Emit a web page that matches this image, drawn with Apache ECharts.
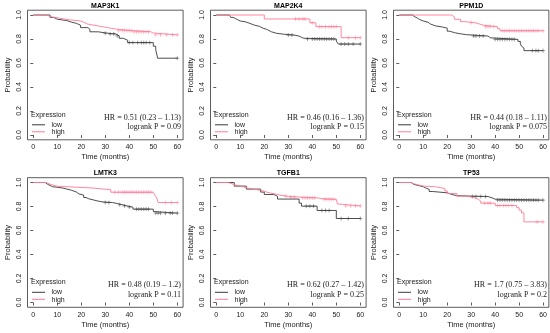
<!DOCTYPE html>
<html>
<head>
<meta charset="utf-8">
<script src="https://cdn.jsdelivr.net/npm/echarts@6/dist/echarts.min.js"></script>
<style>html,body{margin:0;padding:0;background:#fff;}#c{width:550px;height:333px;}</style>
</head>
<body>
<div id="c"></div>
<script>
// ---------- data ----------
const titles = ['MAP3K1', 'MAP2K4', 'PPM1D', 'LMTK3', 'TGFB1', 'TP53'];
const hrTexts = ['HR = 0.51 (0.23 – 1.13)', 'HR = 0.46 (0.16 – 1.36)', 'HR = 0.44 (0.18 – 1.11)',
                 'HR = 0.48 (0.19 – 1.2)', 'HR = 0.62 (0.27 – 1.42)', 'HR = 1.7 (0.75 – 3.83)'];
const pTexts = ['logrank P = 0.09', 'logrank P = 0.15', 'logrank P = 0.075',
                'logrank P = 0.11', 'logrank P = 0.25', 'logrank P = 0.2'];
const xTicks = [0, 10, 20, 30, 40, 50, 60];
const yTicks = [0, 0.2, 0.4, 0.6, 0.8, 1.0];
const groupNames = ['low', 'high'];

// MAP3K1
const map3k1LowT = [0, 7, 8.5, 10, 14, 16, 18, 19.7, 22.7, 23.6, 27, 31, 34.4, 35.8, 37.5, 39.3, 50, 51, 51.8, 60];
const map3k1LowS = [1, 0.98, 0.965, 0.953, 0.94, 0.93, 0.915, 0.895, 0.88, 0.86, 0.848, 0.842, 0.826, 0.806, 0.79, 0.77, 0.74, 0.71, 0.64, 0.64];
const map3k1LowC = [30, 32, 33.5, 35, 40, 41.5, 43.5, 45, 46, 47, 48.5, 60];
const map3k1HighT = [0, 5.5, 7.5, 10.5, 15, 19.7, 21, 22.5, 26.7, 29.5, 32.3, 33.7, 35.5, 41.4, 49, 49.9, 50.5, 60];
const map3k1HighS = [1, 0.985, 0.975, 0.96, 0.95, 0.94, 0.925, 0.91, 0.90, 0.89, 0.885, 0.88, 0.87, 0.86, 0.85, 0.84, 0.835, 0.835];
const map3k1HighC = [35.5, 37, 38, 39, 40, 41, 42, 43, 44, 45, 46, 47, 48, 51, 53, 55.5, 58, 60];

// MAP2K4
const map2k4LowT = [0, 5.5, 6, 7, 8, 9, 10, 12, 14, 16, 18, 19.5, 21, 22, 23, 25, 28, 32.3, 34.4, 35.5, 36.5, 50, 50.8, 60];
const map2k4LowS = [1, 0.99, 0.98, 0.97, 0.96, 0.95, 0.944, 0.93, 0.915, 0.905, 0.89, 0.88, 0.87, 0.86, 0.848, 0.84, 0.833, 0.825, 0.814, 0.806, 0.8, 0.783, 0.758, 0.758];
const map2k4LowC = [30, 31.5, 38, 40, 41, 42, 43, 44, 45, 46, 47, 48, 49, 52, 53.5, 55, 57, 60];
const map2k4HighT = [0, 20, 39, 41.5, 52, 60];
const map2k4HighS = [1, 0.967, 0.935, 0.903, 0.811, 0.811];
const map2k4HighC = [33, 34.5, 36, 37, 40, 43, 44, 45.5, 47, 48, 49, 50, 55, 58, 60];

// PPM1D
const ppm1dLowT = [0, 5.5, 6.5, 7.5, 8.5, 10, 12, 13, 15, 18, 20, 21, 23, 25, 28, 37, 38, 49.5, 50.5, 51, 51.5, 52, 60];
const ppm1dLowS = [1, 0.985, 0.975, 0.962, 0.95, 0.94, 0.925, 0.91, 0.9, 0.89, 0.865, 0.853, 0.845, 0.836, 0.825, 0.81, 0.797, 0.78, 0.76, 0.74, 0.725, 0.703, 0.703];
const ppm1dLowC = [31, 32, 33.5, 35, 40, 41, 42, 43, 44, 45, 46, 47, 48, 55.5, 57, 58, 60];
const ppm1dHighT = [0, 21.8, 23, 25.5, 27, 31.5, 33.5, 35, 41, 42, 60];
const ppm1dHighS = [1, 0.985, 0.964, 0.945, 0.936, 0.925, 0.915, 0.903, 0.886, 0.869, 0.869];
const ppm1dHighC = [30, 36, 37, 38, 39.5, 43, 44, 45, 46, 47, 48, 49, 50, 51, 52, 53, 54, 55, 56, 57, 58, 60];

// LMTK3
const lmtk3LowT = [0, 5, 6, 7, 8, 10, 12, 14, 16, 18, 19, 21, 22, 23, 25, 27, 29, 33, 35, 37, 39, 41.5, 50, 50.8, 60];
const lmtk3LowS = [1, 0.985, 0.975, 0.965, 0.96, 0.955, 0.945, 0.935, 0.92, 0.905, 0.895, 0.875, 0.865, 0.855, 0.845, 0.838, 0.833, 0.825, 0.815, 0.805, 0.795, 0.778, 0.758, 0.745, 0.745];
const lmtk3LowC = [30, 31.5, 36, 38, 40, 43, 44, 45, 46, 47, 48, 51, 52, 53, 55, 57, 58, 60];
const lmtk3HighT = [0, 5.5, 7, 10, 24, 32.3, 50, 50.8, 51.5, 52, 60];
const lmtk3HighS = [1, 0.985, 0.969, 0.955, 0.94, 0.919, 0.905, 0.89, 0.87, 0.833, 0.833];
const lmtk3HighC = [34, 35.5, 37, 38, 39, 40, 41, 42, 43, 44, 45, 46, 47, 48, 49, 55, 57.5, 60];

// TGFB1
const tgfb1LowT = [0, 7.5, 12.5, 18.5, 20, 24, 25.5, 34.5, 35.5, 42, 50, 60];
const tgfb1LowS = [1, 0.97, 0.945, 0.92, 0.90, 0.885, 0.862, 0.828, 0.803, 0.767, 0.70, 0.70];
const tgfb1LowC = [37.5, 39, 40.5, 44, 45.5, 47, 52, 55, 60];
const tgfb1HighT = [0, 5, 6.5, 8, 10, 12, 14, 17, 19.5, 21, 23, 25, 26.5, 30, 35, 42, 44, 50, 50.5, 51.5, 60];
const tgfb1HighS = [1, 0.99, 0.98, 0.97, 0.96, 0.95, 0.94, 0.93, 0.92, 0.91, 0.903, 0.895, 0.885, 0.878, 0.872, 0.865, 0.86, 0.85, 0.82, 0.805, 0.805];
const tgfb1HighC = [29, 31, 32.5, 36, 37, 38, 39, 40, 41, 45, 46, 47, 48, 49, 54, 56, 58, 60];

// TP53
const tp53LowT = [0, 5, 6, 8, 10, 11, 12.5, 14, 20, 22, 24, 37, 39, 40, 60];
const tp53LowS = [1, 0.985, 0.975, 0.965, 0.955, 0.942, 0.925, 0.914, 0.9, 0.89, 0.883, 0.87, 0.861, 0.853, 0.853];
const tp53LowC = [30.5, 32, 34, 36, 41, 42, 43, 44, 45, 46, 47, 48, 49, 50, 51, 52, 53, 54, 55, 56, 57, 58, 60];
const tp53HighT = [0, 5, 6, 8, 10, 15, 19, 20, 24, 28, 31, 33, 34, 40, 49, 50, 51, 52, 60];
const tp53HighS = [1, 0.99, 0.98, 0.97, 0.965, 0.95, 0.93, 0.908, 0.886, 0.875, 0.86, 0.845, 0.828, 0.808, 0.79, 0.77, 0.747, 0.672, 0.672];
const tp53HighC = [35.5, 37, 38, 41, 42, 43.5, 44.5, 45.5, 47, 57.5, 60];

// ---------- build ----------
const curves = [
  [[map3k1LowT, map3k1LowS, map3k1LowC], [map3k1HighT, map3k1HighS, map3k1HighC]],
  [[map2k4LowT, map2k4LowS, map2k4LowC], [map2k4HighT, map2k4HighS, map2k4HighC]],
  [[ppm1dLowT, ppm1dLowS, ppm1dLowC], [ppm1dHighT, ppm1dHighS, ppm1dHighC]],
  [[lmtk3LowT, lmtk3LowS, lmtk3LowC], [lmtk3HighT, lmtk3HighS, lmtk3HighC]],
  [[tgfb1LowT, tgfb1LowS, tgfb1LowC], [tgfb1HighT, tgfb1HighS, tgfb1HighC]],
  [[tp53LowT, tp53LowS, tp53LowC], [tp53HighT, tp53HighS, tp53HighC]]
];
const colors = ['#3a3a3a', '#ff7a95'];
const colX = [0, 183, 366];
const rowY = [0, 167.5];
const sansFont = '"Liberation Sans", Arial, sans-serif';
const serifFont = '"Liberation Serif", "Times New Roman", serif';

function survAt(T, S, t) {
  let v = S[0];
  for (let j = 0; j < T.length; j++) { if (T[j] <= t) v = S[j]; }
  return v;
}

const grids = [], xAxes = [], yAxes = [], series = [], graphics = [];
const plusPath = 'path://M5,0L5,10M1,5L9,5';

for (let i = 0; i < 6; i++) {
  const ox = colX[i % 3], oy = rowY[Math.floor(i / 3)];
  grids.push({ left: 27.5 + ox, top: 10.2 + oy, width: 155.6, height: 129.6,
    show: true, borderColor: '#333', borderWidth: 0.8, backgroundColor: 'transparent' });
  xAxes.push({ type: 'value', gridIndex: i, min: -2.4, max: 62.4,
    axisLine: { show: false }, splitLine: { show: false },
    axisTick: { show: true, inside: false, length: 3, customValues: xTicks, lineStyle: { color: '#333', width: 0.8 } },
    axisLabel: { customValues: xTicks, margin: 4, fontSize: 7, color: '#222', fontFamily: sansFont } });
  yAxes.push({ type: 'value', gridIndex: i, min: -0.04, max: 1.04,
    axisLine: { show: false }, splitLine: { show: false },
    axisTick: { show: true, inside: false, length: 3, customValues: yTicks, lineStyle: { color: '#333', width: 0.8 } },
    axisLabel: { customValues: yTicks, rotate: 90, margin: 5, fontSize: 7, color: '#222', fontFamily: sansFont,
      formatter: v => v.toFixed(1) } });
  for (let g = 0; g < 2; g++) {
    const [T, S, C] = curves[i][g];
    series.push({ type: 'line', name: groupNames[g], xAxisIndex: i, yAxisIndex: i, step: 'end',
      symbol: 'none', showSymbol: false, silent: true, animation: false,
      lineStyle: { color: colors[g], width: 0.9 }, data: T.map((t, j) => [t, S[j]]) });
    series.push({ type: 'scatter', xAxisIndex: i, yAxisIndex: i, symbol: plusPath, symbolSize: 4,
      silent: true, animation: false,
      itemStyle: { color: colors[g], borderColor: colors[g], borderWidth: 0.6 },
      data: C.map(t => [t, survAt(T, S, t)]) });
  }
  // texts
  graphics.push({ type: 'text', x: 105.3 + ox, y: 6 + oy, silent: true,
    style: { text: titles[i], font: 'bold 7px ' + sansFont, fill: '#000', align: 'center', verticalAlign: 'middle' } });
  graphics.push({ type: 'text', x: 8 + ox, y: 75 + oy, rotation: Math.PI / 2, silent: true,
    style: { text: 'Probability', font: '7.5px ' + sansFont, fill: '#222', align: 'center', verticalAlign: 'middle' } });
  graphics.push({ type: 'text', x: 105.3 + ox, y: 157 + oy, silent: true,
    style: { text: 'Time (months)', font: '7.5px ' + sansFont, fill: '#222', align: 'center', verticalAlign: 'middle' } });
  graphics.push({ type: 'text', x: 31 + ox, y: 115 + oy, silent: true,
    style: { text: 'Expression', font: '7px ' + sansFont, fill: '#222', align: 'left', verticalAlign: 'middle' } });
  for (let g = 0; g < 2; g++) {
    graphics.push({ type: 'line', silent: true,
      shape: { x1: 32 + ox, y1: 124.8 + oy + g * 7, x2: 45 + ox, y2: 124.8 + oy + g * 7 },
      style: { stroke: colors[g], lineWidth: 1 } });
    graphics.push({ type: 'text', x: 51.5 + ox, y: 125 + oy + g * 7.3, silent: true,
      style: { text: groupNames[g], font: '7px ' + sansFont, fill: '#222', align: 'left', verticalAlign: 'middle' } });
  }
  graphics.push({ type: 'text', x: 181 + ox, y: 117.5 + oy, silent: true,
    style: { text: hrTexts[i], font: '8px ' + serifFont, fill: '#222', align: 'right', verticalAlign: 'middle' } });
  graphics.push({ type: 'text', x: 181 + ox, y: 127 + oy, silent: true,
    style: { text: pTexts[i], font: '8px ' + serifFont, fill: '#222', align: 'right', verticalAlign: 'middle' } });
}

const chart = echarts.init(document.getElementById('c'), null, { renderer: 'canvas' });
chart.setOption({
  animation: false,
  backgroundColor: '#fff',
  grid: grids, xAxis: xAxes, yAxis: yAxes, series: series, graphic: graphics
});
</script>
</body>
</html>
